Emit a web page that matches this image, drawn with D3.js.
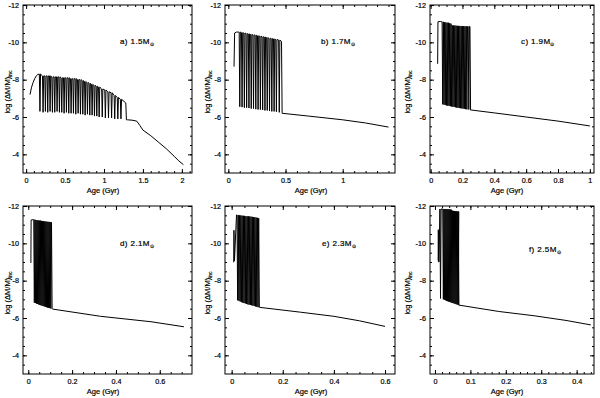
<!DOCTYPE html>
<html>
<head>
<meta charset="utf-8">
<script src="https://cdn.jsdelivr.net/npm/d3@7"></script>
<style>
  html, body { margin: 0; padding: 0; background: #fff; }
  svg { display: block; }
</style>
</head>
<body>
<div id="grafico"></div>
<script>
// ---- dados ----
// eixo y comum
const yTicks = [-12, -10, -8, -6, -4];
const yLabels = ['-12', '-10', '-8', '-6', '-4'];

// a) 1.5 Msol
const headA = [[0.05, -7.2], [0.07, -7.6], [0.09, -7.85], [0.11, -8.05], [0.13, -8.2], [0.15, -8.28], [0.17, -8.3]];
const agesA = [0.17, 0.21, 0.24, 0.27, 0.30, 0.33, 0.36, 0.39, 0.42, 0.45, 0.48, 0.51, 0.54, 0.57, 0.60, 0.63, 0.66, 0.69, 0.72, 0.75, 0.78, 0.81, 0.84, 0.87, 0.90, 0.93, 0.97, 1.01, 1.05, 1.09, 1.13, 1.17, 1.21, 1.28];
const topsA = [-8.3, -8.2, -8.2, -8.2, -8.2, -8.15, -8.15, -8.15, -8.15, -8.1, -8.1, -8.1, -8.1, -8.05, -8.05, -8.05, -8.0, -8.0, -7.95, -7.9, -7.85, -7.8, -7.75, -7.7, -7.65, -7.6, -7.5, -7.45, -7.35, -7.3, -7.15, -7.05, -6.95, -6.75];
const botsA = [-6.3, -6.25, -6.3, -6.25, -6.3, -6.25, -6.25, -6.3, -6.25, -6.25, -6.2, -6.25, -6.2, -6.2, -6.2, -6.15, -6.2, -6.15, -6.15, -6.1, -6.15, -6.1, -6.1, -6.05, -6.05, -6.0, -6.0, -5.95, -5.95, -5.95, -5.9, -5.9, -5.9, -5.85];
const tailA = [[1.3, -5.85], [1.36, -5.83], [1.42, -5.78], [1.46, -5.55], [1.5, -5.3], [1.6, -5.0], [1.7, -4.65], [1.8, -4.3], [1.9, -3.9], [1.96, -3.65], [2.02, -3.45]];
const xTicksA = [0, 0.5, 1, 1.5, 2];
const xLabelsA = ['0', '0.5', '1', '1.5', '2'];

// b) 1.7 Msol
const headB = [[0.05, -8.7], [0.055, -10.5], [0.07, -10.55], [0.09, -10.55]];
const agesB = [0.095, 0.115, 0.135, 0.155, 0.175, 0.195, 0.215, 0.235, 0.255, 0.275, 0.295, 0.315, 0.335, 0.355, 0.375, 0.395, 0.415, 0.44, 0.465];
const topsB = [-10.55, -10.52, -10.5, -10.47, -10.45, -10.42, -10.4, -10.38, -10.35, -10.33, -10.3, -10.28, -10.25, -10.22, -10.2, -10.18, -10.15, -10.12, -10.05];
const botsB = [-6.55, -6.53, -6.5, -6.5, -6.48, -6.45, -6.45, -6.42, -6.4, -6.4, -6.38, -6.35, -6.35, -6.32, -6.3, -6.3, -6.28, -6.25, -6.22];
const tailB = [[0.47, -6.2], [0.7, -6.05], [1.0, -5.85], [1.2, -5.68], [1.4, -5.46]];
const xTicksB = [0, 0.5, 1];
const xLabelsB = ['0', '0.5', '1'];

// c) 1.9 Msol
const headC = [[0.044, -8.85], [0.046, -11.1], [0.06, -11.12], [0.07, -11.1]];
const agesC = [0.072, 0.08, 0.088, 0.096, 0.104, 0.112, 0.12, 0.128, 0.136, 0.144, 0.152, 0.16, 0.168, 0.176, 0.184, 0.192, 0.2, 0.208, 0.216, 0.224, 0.236, 0.247];
const topsC = [-11.1, -11.08, -11.07, -11.05, -11.05, -11.03, -11.0, -10.92, -10.9, -10.9, -10.9, -10.88, -10.88, -10.88, -10.87, -10.87, -10.87, -10.86, -10.86, -10.85, -10.85, -10.85];
const botsC = [-6.68, -6.66, -6.64, -6.62, -6.6, -6.6, -6.58, -6.56, -6.55, -6.54, -6.52, -6.5, -6.5, -6.48, -6.47, -6.46, -6.45, -6.44, -6.42, -6.41, -6.4, -6.38];
const tailC = [[0.25, -6.38], [0.4, -6.22], [0.6, -6.0], [0.8, -5.78], [1.0, -5.52]];
const xTicksC = [0, 0.2, 0.4, 0.6, 0.8, 1];
const xLabelsC = ['0', '0.2', '0.4', '0.6', '0.8', '1'];

// d) 2.1 Msol
const headD = [[0.012, -8.95], [0.013, -11.25], [0.023, -11.27]];
const agesD = [0.025, 0.03, 0.035, 0.04, 0.045, 0.05, 0.055, 0.06, 0.065, 0.07, 0.075, 0.08, 0.085, 0.09, 0.095, 0.1, 0.106];
const topsD = [-11.27, -11.25, -11.24, -11.23, -11.22, -11.22, -11.2, -11.2, -11.18, -11.18, -11.17, -11.16, -11.15, -11.15, -11.14, -11.13, -11.12];
const botsD = [-6.82, -6.8, -6.77, -6.75, -6.72, -6.7, -6.68, -6.66, -6.64, -6.62, -6.6, -6.58, -6.56, -6.55, -6.53, -6.51, -6.5];
const tailD = [[0.11, -6.48], [0.33, -6.09], [0.56, -5.8], [0.71, -5.53]];
const xTicksD = [0, 0.2, 0.4, 0.6];
const xLabelsD = ['0', '0.2', '0.4', '0.6'];

// e) 2.3 Msol
const headE = [[0.008, -8.98], [0.009, -10.7], [0.011, -9.05], [0.019, -11.52]];
const agesE = [0.021, 0.026, 0.031, 0.036, 0.041, 0.046, 0.051, 0.056, 0.061, 0.066, 0.071, 0.076, 0.081, 0.086, 0.091, 0.096, 0.101, 0.106];
const topsE = [-11.52, -11.5, -11.5, -11.48, -11.48, -11.47, -11.46, -11.45, -11.45, -11.44, -11.43, -11.42, -11.41, -11.4, -11.38, -11.37, -11.35, -11.32];
const botsE = [-6.95, -6.92, -6.88, -6.85, -6.82, -6.8, -6.78, -6.75, -6.73, -6.71, -6.7, -6.68, -6.66, -6.64, -6.62, -6.6, -6.58, -6.57];
const tailE = [[0.11, -6.57], [0.27, -6.31], [0.4, -6.09], [0.5, -5.85], [0.6, -5.55]];
const xTicksE = [0, 0.2, 0.4, 0.6];
const xLabelsE = ['0', '0.2', '0.4', '0.6'];

// f) 2.5 Msol
const headF = [[0.009, -9.07], [0.0095, -10.73], [0.0105, -9.0], [0.0115, -9.0]];
const agesF = [0.014, 0.022, 0.025, 0.028, 0.031, 0.034, 0.037, 0.040, 0.043, 0.046, 0.049, 0.052, 0.055, 0.058, 0.061, 0.064, 0.066];
const topsF = [-11.84, -11.84, -11.84, -11.84, -11.83, -11.83, -11.82, -11.82, -11.8, -11.75, -11.74, -11.73, -11.72, -11.72, -11.71, -11.7, -11.7];
const botsF = [-7.05, -7.0, -6.98, -6.95, -6.92, -6.9, -6.88, -6.86, -6.84, -6.82, -6.8, -6.78, -6.76, -6.74, -6.72, -6.7, -6.68];
const tailF = [[0.068, -6.69], [0.18, -6.35], [0.28, -6.12], [0.37, -5.87], [0.44, -5.63]];
const xTicksF = [0, 0.1, 0.2, 0.3, 0.4];
const xLabelsF = ['0', '0.1', '0.2', '0.3', '0.4'];

let Grafico = (() => {
    const largura = 600;
    const altura = 398;
    const fonte = '"Liberation Sans", Arial, sans-serif';

    // layout da grade 3x2
    const colX0 = [23, 225, 430];
    const colX1 = [192, 395, 594];
    const linY0 = [5, 206];
    const linY1 = [173, 374];
    const yLabX = [10, 210, 410];
    const ageX = [103, 311, 507];

    const paineis = [
        { letra: 'a', massa: '1.5', col: 0, lin: 0, dom: [-0.04, 2.13], minor: 0.1, head: headA, ages: agesA, tops: topsA, bots: botsA, tail: tailA, ticks: xTicksA, labels: xLabelsA, nota: [120, 44] },
        { letra: 'b', massa: '1.7', col: 1, lin: 0, dom: [-0.029, 1.457], minor: 0.1, head: headB, ages: agesB, tops: topsB, bots: botsB, tail: tailB, ticks: xTicksB, labels: xLabelsB, nota: [321, 44] },
        { letra: 'c', massa: '1.9', col: 2, lin: 0, dom: [-0.004, 1.026], minor: 0.05, head: headC, ages: agesC, tops: topsC, bots: botsC, tail: tailC, ticks: xTicksC, labels: xLabelsC, nota: [521, 44] },
        { letra: 'd', massa: '2.1', col: 0, lin: 1, dom: [-0.024, 0.747], minor: 0.05, head: headD, ages: agesD, tops: topsD, bots: botsD, tail: tailD, ticks: xTicksD, labels: xLabelsD, nota: [120, 246] },
        { letra: 'e', massa: '2.3', col: 1, lin: 1, dom: [-0.026, 0.639], minor: 0.05, head: headE, ages: agesE, tops: topsE, bots: botsE, tail: tailE, ticks: xTicksE, labels: xLabelsE, nota: [322, 246] },
        { letra: 'f', massa: '2.5', col: 2, lin: 1, dom: [-0.014, 0.449], minor: 0.02, head: headF, ages: agesF, tops: topsF, bots: botsF, tail: tailF, ticks: xTicksF, labels: xLabelsF, nota: [529, 252] }
    ];

    /**
     * Monta a polilinha: trecho inicial, pulsos (dente estreito) e trecho final
     */
    const pontos = (p, x, y) => {
        const pts = p.head.map(d => [x(d[0]), y(d[1])]);
        const n = p.ages.length;
        p.ages.forEach((a, i) => {
            const xi = x(a);
            pts.push([xi, y(p.tops[i])]);
            pts.push([xi + 0.6, y(p.bots[i])]);
            if (i < n - 1) pts.push([xi + 1.2, y(p.tops[i])]);
        });
        p.tail.forEach(d => pts.push([x(d[0]), y(d[1])]));
        return pts;
    };

    const desenhar = () => {
        const svg = d3.select('#grafico')
            .append('svg')
            .attr('width', largura)
            .attr('height', altura)
            .attr('viewBox', `0 0 ${largura} ${altura}`);

        svg.append('rect').attr('width', largura).attr('height', altura).attr('fill', '#fff');

        paineis.forEach(p => {
            const x0 = colX0[p.col], x1 = colX1[p.col];
            const y0 = linY0[p.lin], y1 = linY1[p.lin];

            const x = d3.scaleLinear().domain(p.dom).range([x0, x1]);
            const y = d3.scaleLinear().domain([-12, -3]).range([y0, y1]);

            const g = svg.append('g');

            // ticks menores
            const minX = d3.range(Math.ceil(p.dom[0] / p.minor) * p.minor, p.dom[1], p.minor)
                .map(v => +v.toFixed(3)).filter(v => v > p.dom[0]);
            const minY = d3.range(-12, -3, 0.5);

            const eixo = (ax, tx, ty) => g.append('g')
                .attr('transform', `translate(${tx},${ty})`)
                .call(ax)
                .call(s => s.select('.domain').remove())
                .attr('font-family', fonte)
                .attr('font-size', 7.2)
                .call(s => s.selectAll('line').attr('stroke', '#000'))
                .call(s => s.selectAll('text').attr('stroke', '#000').attr('stroke-width', 0.2));

            // menores: baixo, topo, esquerda, direita
            eixo(d3.axisBottom(x).tickValues(minX).tickSize(-2).tickFormat(''), 0, y1);
            eixo(d3.axisTop(x).tickValues(minX).tickSize(-2).tickFormat(''), 0, y0);
            eixo(d3.axisLeft(y).tickValues(minY).tickSize(-2).tickFormat(''), x0, 0);
            eixo(d3.axisRight(y).tickValues(minY).tickSize(-2).tickFormat(''), x1, 0);

            // maiores com rótulos
            eixo(d3.axisBottom(x).tickValues(p.ticks).tickSize(-4).tickPadding(5)
                .tickFormat((d, i) => p.labels[i]), 0, y1);
            eixo(d3.axisTop(x).tickValues(p.ticks).tickSize(-4).tickFormat(''), 0, y0);
            eixo(d3.axisLeft(y).tickValues(yTicks).tickSize(-4).tickPadding(4)
                .tickFormat((d, i) => yLabels[i]), x0, 0);
            eixo(d3.axisRight(y).tickValues(yTicks).tickSize(-4).tickFormat(''), x1, 0);

            // moldura
            g.append('rect')
                .attr('x', x0).attr('y', y0)
                .attr('width', x1 - x0).attr('height', y1 - y0)
                .attr('fill', 'none').attr('stroke', '#000').attr('stroke-width', 1);

            // curva
            g.append('path')
                .datum(pontos(p, x, y))
                .attr('d', d3.line())
                .attr('fill', 'none')
                .attr('stroke', '#000')
                .attr('stroke-width', 1)
                .attr('stroke-linejoin', 'miter');

            // rótulo do eixo x
            g.append('text')
                .attr('x', ageX[p.col]).attr('y', y1 + 20)
                .attr('text-anchor', 'middle')
                .attr('stroke', '#000').attr('stroke-width', 0.2)
                .style('font-family', fonte).style('font-size', '7.5px')
                .text('Age (Gyr)');

            // rótulo do eixo y
            const ly = (y0 + y1) / 2 + 3;
            const t = g.append('text')
                .attr('transform', `translate(${yLabX[p.col]},${ly}) rotate(-90)`)
                .attr('text-anchor', 'middle')
                .attr('stroke', '#000').attr('stroke-width', 0.2)
                .style('font-family', fonte).style('font-size', '7.5px');
            t.append('tspan').text('log (\u0394M/M)');
            t.append('tspan').attr('dy', 2).style('font-size', '5px').text('inc');

            // anotação da massa
            const n = g.append('text')
                .attr('x', p.nota[0]).attr('y', p.nota[1])
                .attr('stroke', '#000').attr('stroke-width', 0.2)
                .style('font-family', fonte).style('font-size', '8px')
                .style('letter-spacing', '0.4px');
            n.append('tspan').text(`${p.letra}) ${p.massa}M`);
            n.append('tspan').attr('dy', 2).style('font-size', '5px').text('\u2299');
        });
    };

    const iniciar = () => desenhar();

    return { iniciar };
})();

Grafico.iniciar();
</script>
</body>
</html>
